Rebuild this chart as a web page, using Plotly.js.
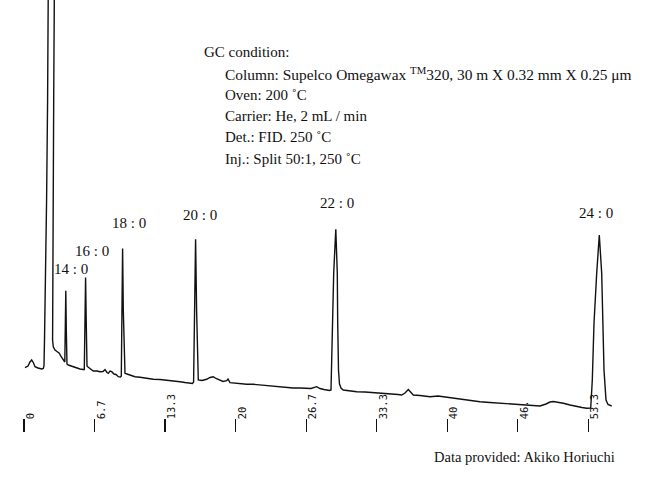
<!DOCTYPE html>
<html>
<head>
<meta charset="utf-8">
<script src="https://cdn.plot.ly/plotly-3.0.1.min.js"></script>
<style>html,body{margin:0;padding:0;background:#fff;}#chart{width:650px;height:485px;}</style>
</head>
<body>
<div id="chart"></div>
<script>
// Retention time (min) and detector signal (arbitrary units)
const time = [
  0.095, 0.378, 0.567, 0.728, 0.898, 1.040, 1.323, 1.673, 1.824, 1.890, 1.938, 2.032, 2.136, 2.231, 2.287, 2.580, 2.864, 2.807, 2.741, 2.694, 2.675, 2.703, 2.769, 2.930, 3.147, 3.336, 3.469, 3.620, 3.781,
  3.856, 3.913, 3.951, 3.998, 4.064,
  4.187, 4.442, 4.660, 5.009, 5.293, 5.577,
  5.699, 5.766, 5.822, 5.879, 5.955,
  6.078, 6.333, 6.550, 6.900, 7.183, 7.467, 7.656, 7.845, 7.968, 8.129, 8.289, 8.507, 8.696, 8.913, 9.121,
  9.197, 9.263, 9.320, 9.386, 9.471,
  9.546, 9.735, 10.019, 10.491, 10.964, 11.531, 12.221, 12.854, 13.488, 14.083, 14.745, 15.217, 15.690, 15.926,
  16.030, 16.125, 16.219, 16.314, 16.408,
  16.474, 16.824, 17.268, 17.580, 17.892, 18.147, 18.526, 18.809, 19.159, 19.282, 19.471, 20.038, 20.416, 21.049, 21.645, 22.306, 22.940, 23.535, 24.197, 24.830, 25.425, 26.087, 26.720, 27.127, 27.665, 27.977, 28.355, 28.611, 28.875,
  29.017, 29.140, 29.272, 29.471, 29.612, 29.650, 29.726, 29.820,
  29.962, 30.180, 30.813, 31.446, 32.231, 33.336, 34.121, 34.905, 35.350, 35.699, 36.011, 36.323, 36.578, 36.796, 37.429, 38.375, 39.130, 39.953, 40.737, 41.522, 42.344, 43.100, 44.045, 45.302, 46.125, 46.881, 47.826, 48.771, 49.338, 49.716, 50.028, 50.473, 50.974, 51.607, 52.240, 52.741, 53.185, 53.450,
  53.563, 53.715, 53.875, 54.130, 54.376, 54.603, 54.698, 54.820, 55.009, 55.198, 55.548
];
const signal = [
  64.3, 66, 70, 72, 69, 65.3, 64, 63, 63.5, 66, 92, 142, 232, 332, 432, 492, 432, 332, 232, 152, 102, 92, 85.3, 82, 80.3, 78.7, 76, 73.7, 71.3,
  70, 112, 141.3, 102, 68,
  67, 66, 65.3, 64.5, 63, 62.5,
  62.5, 112, 154.5, 112, 66,
  64.7, 62.5, 61, 61, 60.3, 60.5, 62.5, 59.5, 58.7, 61, 60.3, 58, 57.5, 55.3, 55,
  56, 122, 183.5, 122, 62,
  58.7, 58, 57, 55.3, 54.7, 53.5, 52.7, 52.5, 52, 51, 50.3, 49.5, 48.7, 48.5,
  50, 122, 192.7, 122, 56,
  52, 51.5, 52.7, 54.5, 55.3, 53.5, 52, 50.5, 51.3, 53, 49.3, 48.5, 48, 47.7, 47.7, 47, 47, 46, 45, 44.7, 44, 44, 43.7, 43.5, 45.3, 43.5, 42.5, 42, 41.5,
  42, 109, 159, 202.7, 159, 109, 62, 48,
  44, 42, 41, 40.3, 40, 39.3, 38.5, 38, 37.5, 37, 39, 42.5, 39, 37, 36.5, 35.3, 36, 34.7, 34, 32.7, 31.5, 30.3, 29.5, 28.7, 28, 27.7, 27, 26, 28, 30, 30.5, 30, 28.7, 27, 25.3, 24.5, 23.7, 23.5,
  24, 52, 108.7, 158.7, 197, 158.7, 108.7, 62, 32, 27.5, 26
];

// Axis ticks
const tickVals = [0, 6.67, 13.33, 20, 26.67, 33.33, 40, 46.67, 53.33];
const tickText = ['0', '6.7', '13.3', '20', '26.7', '33.3', '40', '46.', '53.3'];

// Peaks (fatty acid methyl esters)
const peakNames = ['14 : 0', '16 : 0', '18 : 0', '20 : 0', '22 : 0', '24 : 0'];
const peakTimes = [3.951, 5.822, 9.320, 16.219, 29.471, 54.376];

// Text
const conditionTitle = 'GC condition:';
const conditionLines = [
  'Column: Supelco Omegawax <sup>TM</sup>320, 30 m X 0.32 mm X 0.25 \u03bcm',
  'Oven: 200 \u02daC',
  'Carrier: He, 2 mL / min',
  'Det.: FID. 250 \u02daC',
  'Inj.: Split 50:1, 250 \u02daC'
];
const creditText = 'Data provided: Akiko Horiuchi';

// ---- layout helpers ----
const W = 650, H = 485, PLOT_H = 432;
const px = x => x / W;
const py = y => 1 - y / PLOT_H;
const serif = 'Liberation Serif, Times New Roman, serif';
const ink = '#111111';
const xRange = [-2.268, 59.168];

const peakShift = [[5.2, 21.7], [6.4, 27], [6.7, 26], [4.9, 24], [1.5, 26.8], [-3, 22.2]];
const annotations = [];
peakNames.forEach((name, i) => {
  const idx = time.indexOf(peakTimes[i]);
  annotations.push({
    x: peakTimes[i], y: signal[idx], xref: 'x', yref: 'y',
    text: name, showarrow: false, xanchor: 'center', yanchor: 'middle',
    xshift: peakShift[i][0], yshift: peakShift[i][1],
    font: {family: serif, size: 15, color: ink}
  });
});
annotations.push({
  x: px(201.5), y: py(51.5), xref: 'paper', yref: 'paper', text: conditionTitle,
  showarrow: false, xanchor: 'left', yanchor: 'middle', font: {family: serif, size: 15, color: ink}
});
const lineY = [73, 94.5, 116, 137.5, 159];
conditionLines.forEach((t, i) => {
  annotations.push({
    x: px(223), y: py(lineY[i]), xref: 'paper', yref: 'paper', text: t,
    showarrow: false, xanchor: 'left', yanchor: 'middle',
    font: {family: serif, size: i === 0 ? 15.4 : 15, color: ink}
  });
});
annotations.push({
  x: px(431.5), y: py(457), xref: 'paper', yref: 'paper', text: creditText,
  showarrow: false, xanchor: 'left', yanchor: 'middle', font: {family: serif, size: 14.5, color: ink}
});

const labelOffset = 0.62;
const traces = [
  {x: time, y: signal, type: 'scatter', mode: 'lines', line: {color: ink, width: 1.4}, hoverinfo: 'skip', showlegend: false},
  {x: [], y: [], type: 'scatter', mode: 'lines', xaxis: 'x2', yaxis: 'y', hoverinfo: 'skip', showlegend: false}
];

const layout = {
  width: W, height: H, autosize: false,
  margin: {l: 0, r: 0, t: 0, b: H - PLOT_H, pad: 0},
  paper_bgcolor: '#ffffff', plot_bgcolor: '#ffffff', showlegend: false,
  xaxis: {
    range: xRange, showgrid: false, zeroline: false, showline: false,
    tickmode: 'array', tickvals: tickVals, ticks: 'inside', ticklen: 13, tickwidth: 1.2, tickcolor: ink,
    showticklabels: false, fixedrange: true
  },
  xaxis2: {
    overlaying: 'x', anchor: 'y', side: 'bottom', range: xRange, showgrid: false, zeroline: false, showline: false,
    tickmode: 'array', tickvals: tickVals.map(v => v + labelOffset), ticktext: tickText, ticks: '',
    ticklabelposition: 'inside', tickangle: -90, ticklabelstandoff: 6,
    tickfont: {family: 'DejaVu Sans Mono, monospace', size: 10.5, color: ink}, fixedrange: true
  },
  yaxis: {range: [0, PLOT_H], visible: false, fixedrange: true},
  annotations: annotations
};

Plotly.newPlot('chart', traces, layout, {staticPlot: true, displayModeBar: false});
</script>
</body>
</html>
